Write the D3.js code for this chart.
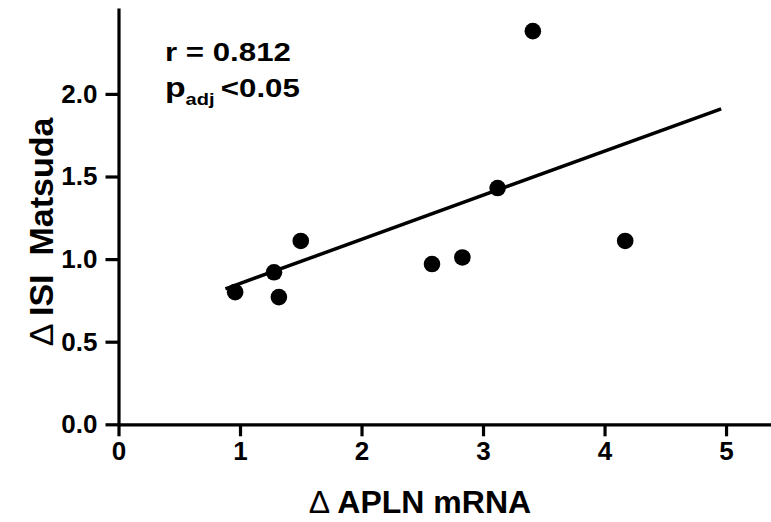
<!DOCTYPE html>
<html lang="en">
<head>
  <meta charset="UTF-8">
  <title>APLN vs ISI Matsuda</title>
  <script src="https://d3js.org/d3.v7.min.js"></script>
  <style>
    body { margin: 0; background: #fff; }
    svg { font-family: "Liberation Sans", Arial, sans-serif; font-weight: bold; }
    .axis path, .axis line { stroke: #000; stroke-width: 3.2; }
    .axis text { font-size: 26px; font-weight: bold; fill: #000; font-family: "Liberation Sans", Arial, sans-serif; }
    .delta { font-weight: normal; }
  </style>
</head>
<body>
  <div class="chart"></div>
  <script>
    // values
    const apln = [0.96, 1.28, 1.32, 1.50, 2.58, 2.83, 3.12, 3.41, 4.17];
    const isi = [0.80, 0.92, 0.77, 1.11, 0.97, 1.01, 1.43, 2.38, 1.11];
    const fitX = [0.88, 4.96];
    const fitY = [0.82, 1.91];
    const xTicks = [0, 1, 2, 3, 4, 5];
    const yTicks = [0, 0.5, 1.0, 1.5, 2.0];

    const width = 771, height = 522;

    const svg = d3.select(".chart").append("svg")
      .attr("width", width)
      .attr("height", height);

    const x = d3.scaleLinear().domain([0, 5.37]).range([118.5, 771]);
    const y = d3.scaleLinear().domain([0, 2.52]).range([424.3, 8]);

    svg.append("g")
      .attr("class", "axis")
      .attr("transform", `translate(0,${y(0)})`)
      .call(d3.axisBottom(x).tickValues(xTicks).tickSize(12).tickSizeOuter(0).tickPadding(5).tickFormat(d3.format("d")));

    svg.append("g")
      .attr("class", "axis")
      .attr("transform", `translate(${x(0)},0)`)
      .call(d3.axisLeft(y).tickValues(yTicks).tickSize(13).tickSizeOuter(0).tickPadding(8).tickFormat(d3.format(".1f")));

    // regression line
    svg.append("line")
      .attr("x1", x(fitX[0])).attr("y1", y(fitY[0]))
      .attr("x2", x(fitX[1])).attr("y2", y(fitY[1]))
      .attr("stroke", "#000")
      .attr("stroke-width", 3.5);

    svg.selectAll("circle.pt")
      .data(apln.map((v, i) => [v, isi[i]]))
      .join("circle")
      .attr("class", "pt")
      .attr("cx", d => x(d[0]))
      .attr("cy", d => y(d[1]))
      .attr("r", 8.3)
      .attr("fill", "#000");

    // axis titles
    const xt = svg.append("text")
      .attr("x", 420)
      .attr("y", 513)
      .attr("text-anchor", "middle")
      .attr("font-size", 32);
    xt.append("tspan").attr("class", "delta").text("\u0394 ");
    xt.append("tspan").text("APLN mRNA");

    const yt = svg.append("text")
      .attr("transform", "translate(53,232) rotate(-90)")
      .attr("text-anchor", "middle")
      .attr("font-size", 34)
      .style("white-space", "pre");
    yt.append("tspan").attr("class", "delta").text("\u0394 ");
    yt.append("tspan").text("ISI  Matsuda");

    // annotation (the source text is a little wider than the font)
    const note = svg.append("g")
      .attr("transform", "translate(165,0) scale(1.25,1)");

    note.append("text")
      .attr("y", 61)
      .attr("font-size", 25)
      .text("r = 0.812");

    const p = note.append("text")
      .attr("y", 97)
      .attr("font-size", 27);
    p.append("tspan").text("p");
    p.append("tspan").attr("font-size", 16).attr("dy", 8).text("adj");
    p.append("tspan").attr("font-size", 25).attr("dy", -8).attr("dx", 5).text("<0.05");
  </script>
</body>
</html>
